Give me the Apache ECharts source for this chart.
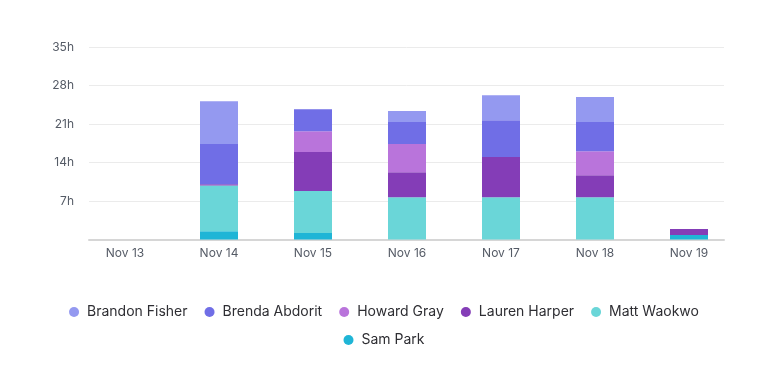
<!DOCTYPE html>
<html>
<head>
<meta charset="utf-8">
<script src="https://cdn.jsdelivr.net/npm/echarts@6/dist/echarts.min.js"></script>
<style>
  html, body { margin: 0; padding: 0; background: #ffffff; }
  #chart { width: 768px; height: 389px; }
</style>
</head>
<body>
<div id="chart"></div>
<script>
const categories = ['Nov 13', 'Nov 14', 'Nov 15', 'Nov 16', 'Nov 17', 'Nov 18', 'Nov 19'];
const yTicks = [0, 7, 14, 21, 28, 35];

const samPark       = [0, 1.5, 1.2, 0,   0,   0,   0.8];
const mattWaokwo    = [0, 8.3, 7.6, 7.7, 7.7, 7.7, 0];
const laurenHarper  = [0, 0.25, 7.1, 4.55, 7.3, 4.0, 1.1];
const howardGray    = [0, 0,   3.8, 5.1, 0,   4.35, 0];
const brendaAbdorit = [0, 7.3, 4.0, 4.0, 6.7, 5.3, 0];
const brandonFisher = [0, 7.8, 0,   2.0, 4.55, 4.55, 0];

const seriesDefs = [
  { name: 'Sam Park',       data: samPark,       color: '#1fb5d6' },
  { name: 'Matt Waokwo',    data: mattWaokwo,    color: '#6ad6d8' },
  { name: 'Lauren Harper',  data: laurenHarper,  color: '#843db7' },
  { name: 'Howard Gray',    data: howardGray,    color: '#b974db' },
  { name: 'Brenda Abdorit', data: brendaAbdorit, color: '#706ee6' },
  { name: 'Brandon Fisher', data: brandonFisher, color: '#9499f0' }
];
const legendRow1 = ['Brandon Fisher', 'Brenda Abdorit', 'Howard Gray', 'Lauren Harper', 'Matt Waokwo'];
const legendRow2 = ['Sam Park'];

const font = 'Inter, "Noto Sans", sans-serif';
const chart = echarts.init(document.getElementById('chart'), null, { renderer: 'canvas' });

const legendCommon = {
  left: 'center',
  orient: 'horizontal',
  icon: 'circle',
  itemWidth: 16,
  itemHeight: 10,
  itemGap: 17,
  textStyle: { fontFamily: font, fontSize: 14, color: '#2e2e33' }
};

chart.setOption({
  animation: false,
  backgroundColor: '#ffffff',
  legend: [
    Object.assign({}, legendCommon, { top: 300, data: legendRow1 }),
    Object.assign({}, legendCommon, { top: 328, data: legendRow2 })
  ],
  grid: [
    { left: 78, right: 32, top: 47, height: 192.5 },
    { left: 89, right: 44, top: 47, height: 192.5 }
  ],
  xAxis: [
    {
      type: 'category', gridIndex: 0, data: categories,
      axisLine: { show: false }, axisTick: { show: false },
      axisLabel: { fontFamily: font, fontSize: 12, color: '#555b66', margin: 8 }
    },
    {
      type: 'category', gridIndex: 1, data: categories,
      axisLine: { show: true, lineStyle: { color: '#d6d6d6', width: 2 } },
      axisTick: { show: false }, axisLabel: { show: false }
    }
  ],
  yAxis: [
    { type: 'value', gridIndex: 0, min: yTicks[0], max: yTicks[yTicks.length - 1], interval: 7, show: false },
    {
      type: 'value', gridIndex: 1, min: yTicks[0], max: yTicks[yTicks.length - 1], interval: 7,
      axisLine: { show: false }, axisTick: { show: false },
      axisLabel: {
        fontFamily: font, fontSize: 12, color: '#555b66', margin: 15,
        formatter: function (v) { return v === 0 ? '' : v + 'h'; }
      },
      splitLine: { lineStyle: { color: '#ebebeb', width: 1 } }
    }
  ],
  series: seriesDefs.map(function (s) {
    return {
      name: s.name, type: 'bar', stack: 'total',
      xAxisIndex: 0, yAxisIndex: 0,
      barWidth: 38,
      itemStyle: { color: s.color },
      data: s.data
    };
  })
});
</script>
</body>
</html>
